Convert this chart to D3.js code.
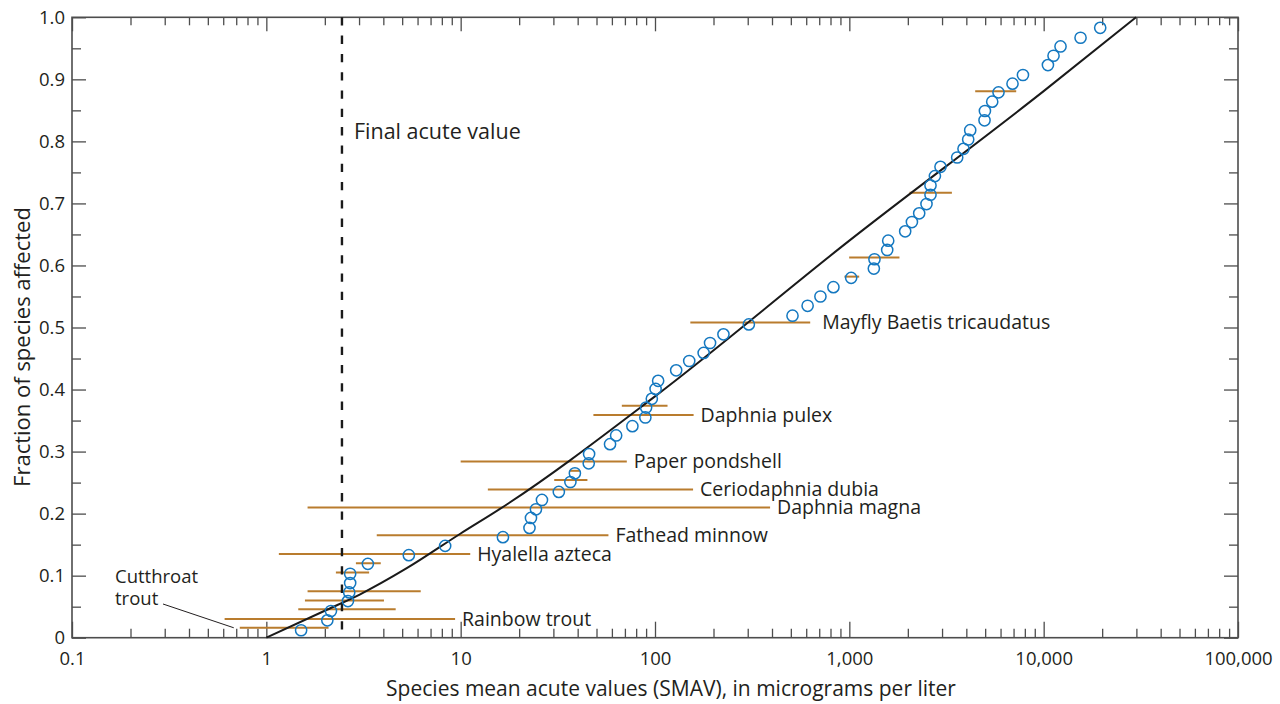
<!DOCTYPE html>
<html>
<head>
<meta charset="utf-8">
<script src="https://cdn.jsdelivr.net/npm/d3@7"></script>
<style>
  body { margin: 0; background: #fff; }
  svg text { font-family: "Open Sans", "Noto Sans", sans-serif; fill: #231f20; }
</style>
</head>
<body>
<svg id="chart"></svg>
<script>
// Species mean acute values (micrograms per liter) and their plotting fraction.
const smav = [1.51, 2.06, 2.15, 2.63, 2.67, 2.70, 2.70, 3.33, 5.41, 8.32,
  16.5, 22.6, 23.0, 24.4, 26.2, 32.0, 36.7, 38.7, 45.6, 45.8,
  58.7, 63.1, 76.5, 89.2, 90.0, 96.3, 100.7, 103.8, 128.5, 150,
  178, 192, 225, 304, 510, 610, 710, 828, 1022, 1337,
  1347, 1566, 1585, 1938, 2099, 2288, 2495, 2616, 2616, 2756,
  2945, 3589, 3868, 4089, 4188, 4962, 4985, 5435, 5856, 6913,
  7823, 10517, 11240, 12210, 15480, 19540];
const fraction = [0.012, 0.028, 0.043, 0.059, 0.073, 0.088, 0.103, 0.119, 0.133, 0.148,
  0.162, 0.177, 0.193, 0.207, 0.222, 0.235, 0.251, 0.265, 0.281, 0.296,
  0.312, 0.326, 0.341, 0.355, 0.371, 0.385, 0.401, 0.414, 0.431, 0.446,
  0.459, 0.475, 0.489, 0.505, 0.519, 0.535, 0.550, 0.565, 0.580, 0.595,
  0.610, 0.625, 0.640, 0.655, 0.670, 0.684, 0.699, 0.714, 0.729, 0.744,
  0.759, 0.774, 0.788, 0.803, 0.818, 0.834, 0.849, 0.864, 0.879, 0.893,
  0.907, 0.923, 0.938, 0.953, 0.967, 0.983];

// Ranges of the acute values behind some species means.
const barSpecies = ["Cutthroat trout", "Rainbow trout", "", "", "", "", "",
  "Hyalella azteca", "Fathead minnow", "Daphnia magna", "Ceriodaphnia dubia", "", "",
  "Paper pondshell", "Daphnia pulex", "", "Mayfly Baetis tricaudatus", "", "", "", ""];
const barFraction = [0.016, 0.030, 0.046, 0.060, 0.075, 0.105, 0.120, 0.135, 0.165, 0.210,
  0.239, 0.254, 0.269, 0.284, 0.359, 0.374, 0.508, 0.582, 0.613, 0.717, 0.881];
const barLow = [0.73, 0.61, 1.46, 1.58, 1.63, 2.28, 2.89, 1.16, 3.70, 1.63,
  13.8, 30.3, 36.3, 10.0, 48.2, 67.5, 152, 944, 998, 2040, 4443];
const barHigh = [2.09, 9.36, 4.63, 4.03, 6.23, 3.38, 3.88, 11.2, 57.6, 391,
  157, 44.9, 41.2, 71.6, 158, 116, 629, 1124, 1811, 3371, 7222];

// Fitted distribution curve.
const fitValue = [1, 2.05, 3.04, 5.28, 10, 16, 100, 1000, 10000, 29900];
const fitFraction = [0, 0.045, 0.070, 0.112, 0.168, 0.208, 0.389, 0.640, 0.881, 1.0];

const finalAcuteValue = 2.45;

const xMajor = [0.1, 1, 10, 100, 1000, 10000, 100000];
const xMajorLabels = ["0.1", "1", "10", "100", "1,000", "10,000", "100,000"];
const yMajor = [0, 0.1, 0.2, 0.3, 0.4, 0.5, 0.6, 0.7, 0.8, 0.9, 1.0];
const yMajorLabels = ["0", "0.1", "0.2", "0.3", "0.4", "0.5", "0.6", "0.7", "0.8", "0.9", "1.0"];

const width = 1280, height = 704;
const margin = {top: 17.3, right: 42, bottom: 66.3, left: 72};

const svg = d3.select("#chart").attr("width", width).attr("height", height);

const x = d3.scaleLog().domain([0.1, 100000]).range([margin.left, width - margin.right]);
const y = d3.scaleLinear().domain([0, 1]).range([height - margin.bottom, margin.top]);

// minor log ticks: 2..9 within each decade
const xMinor = [];
xMajor.slice(0, -1).forEach(d => {
  for (let k = 2; k <= 9; k++) xMinor.push(d * k);
});
const yMinor = yMajor.slice(0, -1).map(d => d + 0.05);

const tickColor = "#4d4d4d";
function styleAxis(g) {
  g.select(".domain").remove();
  g.selectAll(".tick line").attr("stroke", tickColor).attr("stroke-width", 1.3);
  g.selectAll(".tick text").style("font-size", "18.5px");
}

// bottom
svg.append("g").attr("transform", `translate(0,${y(0)})`)
  .call(d3.axisBottom(x).tickValues(xMajor).tickSize(-16).tickPadding(9)
    .tickFormat((d, i) => xMajorLabels[i]))
  .call(styleAxis)
  .selectAll(".tick text").attr("dy", "1em");
svg.append("g").attr("transform", `translate(0,${y(0)})`)
  .call(d3.axisBottom(x).tickValues(xMinor).tickSize(-9).tickFormat(""))
  .call(styleAxis);
// top
svg.append("g").attr("transform", `translate(0,${y(1)})`)
  .call(d3.axisTop(x).tickValues(xMajor).tickSize(-14).tickFormat(""))
  .call(styleAxis);
svg.append("g").attr("transform", `translate(0,${y(1)})`)
  .call(d3.axisTop(x).tickValues(xMinor).tickSize(-8).tickFormat(""))
  .call(styleAxis);
// left
svg.append("g").attr("transform", `translate(${x(0.1)},0)`)
  .call(d3.axisLeft(y).tickValues(yMajor).tickSize(-14).tickPadding(7)
    .tickFormat((d, i) => yMajorLabels[i]))
  .call(styleAxis);
svg.append("g").attr("transform", `translate(${x(0.1)},0)`)
  .call(d3.axisLeft(y).tickValues(yMinor).tickSize(-9).tickFormat(""))
  .call(styleAxis);
// right
svg.append("g").attr("transform", `translate(${x(100000)},0)`)
  .call(d3.axisRight(y).tickValues(yMajor).tickSize(-14).tickFormat(""))
  .call(styleAxis);
svg.append("g").attr("transform", `translate(${x(100000)},0)`)
  .call(d3.axisRight(y).tickValues(yMinor).tickSize(-9).tickFormat(""))
  .call(styleAxis);

// frame
svg.append("rect")
  .attr("x", x(0.1)).attr("y", y(1))
  .attr("width", x(100000) - x(0.1)).attr("height", y(0) - y(1))
  .attr("fill", "none").attr("stroke", tickColor).attr("stroke-width", 1.6);

// axis titles
svg.append("text")
  .attr("x", 671).attr("y", 696)
  .attr("text-anchor", "middle").style("font-size", "21px")
  .text("Species mean acute values (SMAV), in micrograms per liter");
svg.append("text")
  .attr("transform", "translate(30,347) rotate(-90)")
  .attr("text-anchor", "middle").style("font-size", "22px")
  .text("Fraction of species affected");

const plot = svg.append("g");

// range bars
const bars = barFraction.map((f, i) => ({f, lo: barLow[i], hi: barHigh[i], name: barSpecies[i]}));
plot.selectAll(".range")
  .data(bars)
  .enter()
  .append("line")
  .attr("class", "range")
  .attr("x1", d => x(d.lo)).attr("x2", d => x(d.hi))
  .attr("y1", d => y(d.f)).attr("y2", d => y(d.f))
  .attr("stroke", "#b97c2e").attr("stroke-width", 2);

// fitted curve
const fit = fitValue.map((v, i) => [v, fitFraction[i]]);
plot.append("path")
  .datum(fit)
  .attr("d", d3.line().x(d => x(d[0])).y(d => y(d[1])).curve(d3.curveMonotoneX))
  .attr("fill", "none").attr("stroke", "#1a1a1a").attr("stroke-width", 2);

// final acute value
plot.append("line")
  .attr("x1", x(finalAcuteValue)).attr("x2", x(finalAcuteValue))
  .attr("y1", y(1)).attr("y2", y(0))
  .attr("stroke", "#1a1a1a").attr("stroke-width", 2.4)
  .attr("stroke-dasharray", "8.3,10");
svg.append("text")
  .attr("x", x(finalAcuteValue) + 12).attr("y", 131).attr("dy", "0.35em")
  .style("font-size", "21.5px")
  .text("Final acute value");

// species points
const points = smav.map((v, i) => ({v, f: fraction[i]}));
plot.selectAll(".species")
  .data(points)
  .enter()
  .append("circle")
  .attr("class", "species")
  .attr("cx", d => x(d.v)).attr("cy", d => y(d.f))
  .attr("r", 5.6)
  .attr("fill", "none").attr("stroke", "#1478c0").attr("stroke-width", 1.5);

// species labels at the end of their ranges
svg.selectAll(".bar-label")
  .data(bars.filter(d => d.name && d.name !== "Cutthroat trout"))
  .enter()
  .append("text")
  .attr("class", "bar-label")
  .attr("x", d => x(d.hi) + (d.name.startsWith("Mayfly") ? 12 : 7))
  .attr("y", d => y(d.f)).attr("dy", "0.35em")
  .style("font-size", "19.5px")
  .text(d => d.name);

// cutthroat trout label with leader, one text per line
const cut = bars.find(d => d.name === "Cutthroat trout");
svg.selectAll(".cut-label")
  .data(["Cutthroat", "trout"])
  .enter()
  .append("text")
  .attr("class", "cut-label")
  .attr("x", 115)
  .attr("y", (d, i) => 583 + i * 22)
  .style("font-size", "18.5px")
  .text(d => d);
svg.append("line")
  .attr("x1", 163).attr("y1", 604)
  .attr("x2", x(cut.lo) - 6).attr("y2", y(cut.f))
  .attr("stroke", "#231f20").attr("stroke-width", 1);
</script>
</body>
</html>
